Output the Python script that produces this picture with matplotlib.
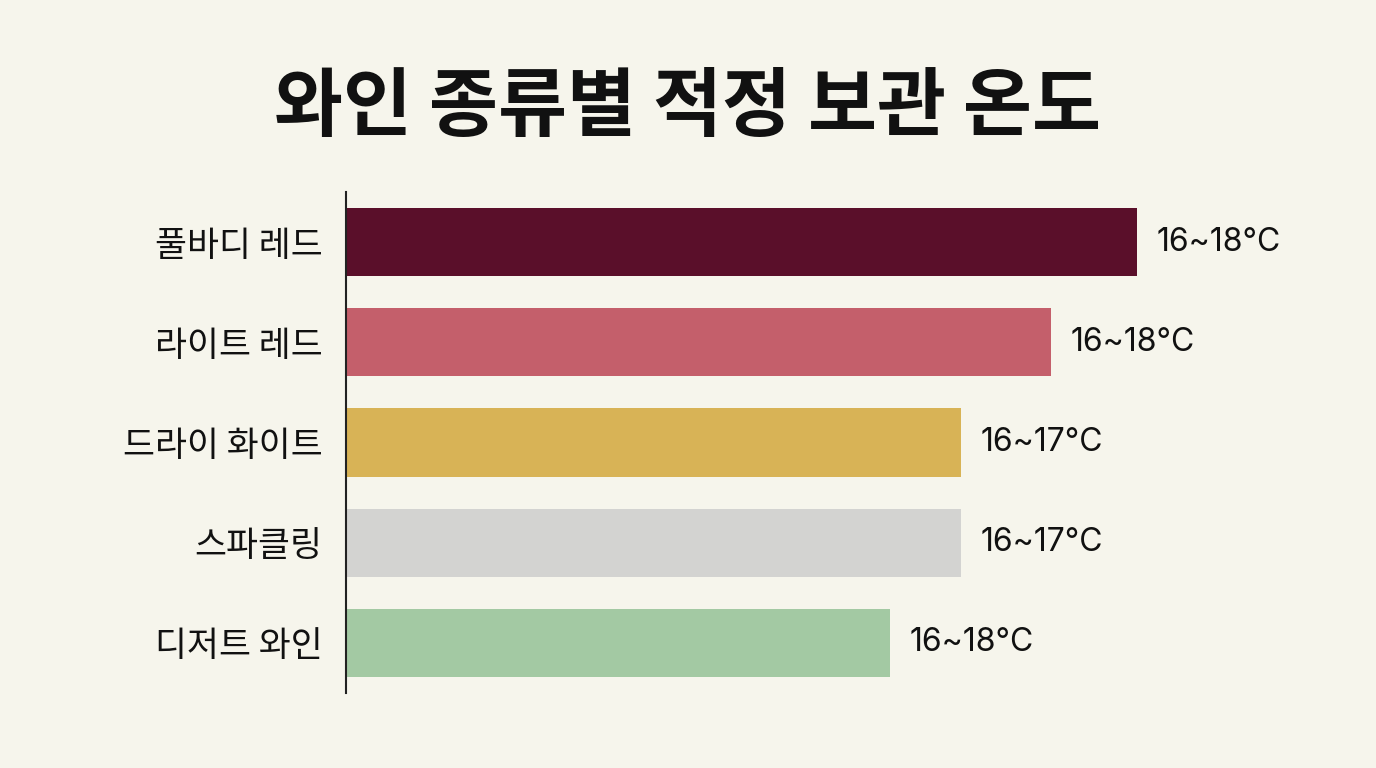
import matplotlib
matplotlib.use('Agg')
import matplotlib.pyplot as plt

plt.rcParams['font.family'] = ['Noto Sans CJK KR', 'DejaVu Sans']

# 데이터
wines = ['풀바디 레드', '라이트 레드', '드라이 화이트', '스파클링', '디저트 와인']
bar_len = [7.91, 7.05, 6.15, 6.15, 5.44]
temp_labels = ['16~18°C', '16~18°C', '16~17°C', '16~17°C', '16~18°C']
colors = ['#5A0F2A', '#C45F6B', '#D8B356', '#D3D3D1', '#A3C9A3']
bg = '#F6F5EC'

fig = plt.figure(figsize=(13.76, 7.68), dpi=100, facecolor=bg)
ax = fig.add_axes([346/1376, 75/768, 1030/1376, 501/768])
ax.set_facecolor(bg)

y = range(len(wines))
ax.barh(y, bar_len, height=0.68, color=colors)

for i, (v, t) in enumerate(zip(bar_len, temp_labels)):
    ax.annotate(t, (v, i), xytext=(20, 0), textcoords='offset pixels',
                va='center', ha='left', fontsize=23, color='#111111',
                family=['Inter', 'DejaVu Sans'])

ax.set_xlim(0, 10.3)
ax.set_ylim(4.5, -0.5)
ax.set_yticks(list(y))
ax.set_yticklabels(wines, fontsize=25, color='#111111', fontweight='medium')
ax.tick_params(axis='y', length=0, pad=17)
ax.set_xticks([])
for s in ['top', 'right', 'bottom']:
    ax.spines[s].set_visible(False)
ax.spines['left'].set_color('#222222')
ax.spines['left'].set_linewidth(1.5)

fig.text(0.5, (768-108)/768, '와인 종류별 적정 보관 온도', ha='center', va='center',
         fontsize=54, fontweight='bold', color='#111111')

fig.savefig('out.png', dpi=100, facecolor=bg)
